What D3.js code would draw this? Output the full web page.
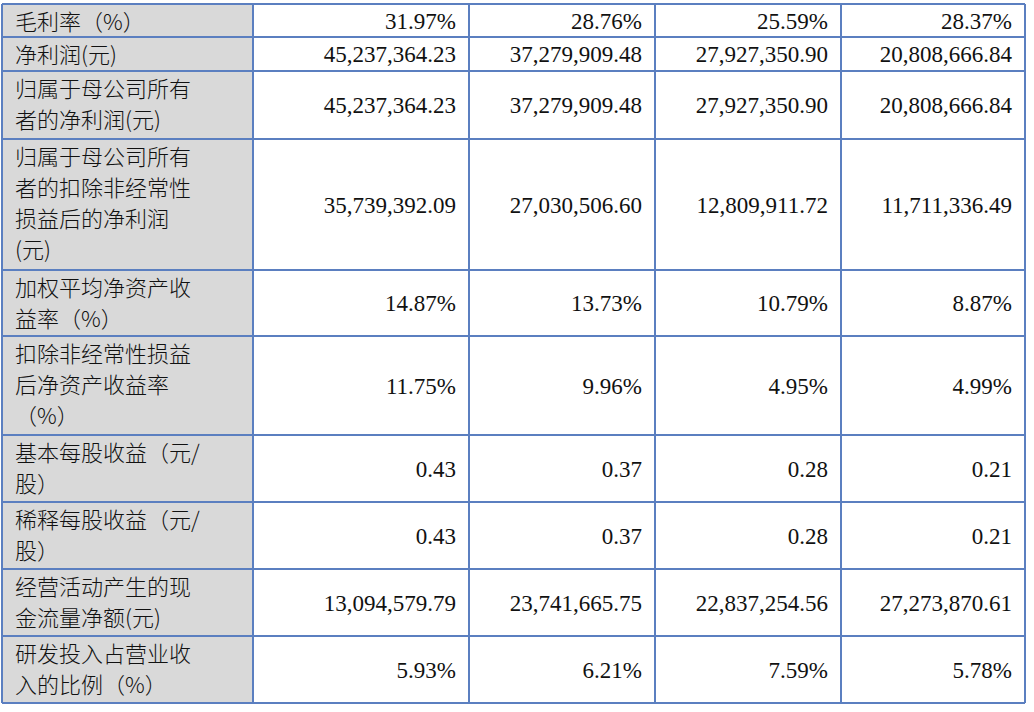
<!DOCTYPE html>
<html><head><meta charset="utf-8">
<script src="https://cdn.jsdelivr.net/npm/d3@7"></script>
<style>body{margin:0;background:#fff}</style>
</head><body><svg id="t" width="1034" height="712"></svg>
<script>
// row labels (already split into lines as in the source table)
var labels = [
  ["毛利率（%）"],
  ["净利润(元)"],
  ["归属于母公司所有", "者的净利润(元)"],
  ["归属于母公司所有", "者的扣除非经常性", "损益后的净利润", "(元)"],
  ["加权平均净资产收", "益率（%）"],
  ["扣除非经常性损益", "后净资产收益率", "（%）"],
  ["基本每股收益（元/", "股）"],
  ["稀释每股收益（元/", "股）"],
  ["经营活动产生的现", "金流量净额(元)"],
  ["研发投入占营业收", "入的比例（%）"]
];
var col1 = ["31.97%", "45,237,364.23", "45,237,364.23", "35,739,392.09", "14.87%", "11.75%", "0.43", "0.43", "13,094,579.79", "5.93%"];
var col2 = ["28.76%", "37,279,909.48", "37,279,909.48", "27,030,506.60", "13.73%", "9.96%", "0.37", "0.37", "23,741,665.75", "6.21%"];
var col3 = ["25.59%", "27,927,350.90", "27,927,350.90", "12,809,911.72", "10.79%", "4.95%", "0.28", "0.28", "22,837,254.56", "7.59%"];
var col4 = ["28.37%", "20,808,666.84", "20,808,666.84", "11,711,336.49", "8.87%", "4.99%", "0.21", "0.21", "27,273,870.61", "5.78%"];

var rowEdges = [4, 37, 71, 139, 270, 336, 435, 502, 569, 636, 703];
var colEdges = [2, 253, 469, 655, 841, 1025];
var cols = [col1, col2, col3, col4];
var blue = "#5b7fc0";

var svg = d3.select("#t");

// label background
svg.append("rect").attr("x", colEdges[0]).attr("y", rowEdges[0])
  .attr("width", colEdges[1] - colEdges[0]).attr("height", rowEdges[10] - rowEdges[0])
  .attr("fill", "#d9d9d9");

var rows = svg.selectAll("g.row").data(labels).enter().append("g").attr("class", "row");

rows.append("text")
  .attr("font-family", "'Noto Sans CJK SC'").attr("font-weight", 300)
  .attr("font-size", 22).attr("fill", "#111")
  .each(function (d, i) {
    var t = d3.select(this);
    d.forEach(function (line, k) {
      t.append("tspan").attr("x", colEdges[0] + 13)
        .attr("y", rowEdges[i] + 26 + k * 31).text(line);
    });
  });

cols.forEach(function (c, j) {
  svg.selectAll("text.c" + j).data(c).enter().append("text")
    .attr("class", "c" + j)
    .attr("x", colEdges[j + 2] - 13)
    .attr("y", function (d, i) { return (rowEdges[i] + rowEdges[i + 1]) / 2 + 8; })
    .attr("text-anchor", "end")
    .attr("font-family", "'Liberation Serif'").attr("font-size", 23).attr("fill", "#111")
    .text(function (d) { return d; });
});

// grid lines
svg.selectAll("line.h").data(rowEdges).enter().append("line")
  .attr("x1", colEdges[0]).attr("x2", colEdges[5])
  .attr("y1", function (d) { return d; }).attr("y2", function (d) { return d; })
  .attr("stroke", blue).attr("stroke-width", 2);
svg.selectAll("line.v").data(colEdges).enter().append("line")
  .attr("y1", rowEdges[0]).attr("y2", rowEdges[10])
  .attr("x1", function (d) { return d; }).attr("x2", function (d) { return d; })
  .attr("stroke", blue).attr("stroke-width", 2);
</script></body></html>
